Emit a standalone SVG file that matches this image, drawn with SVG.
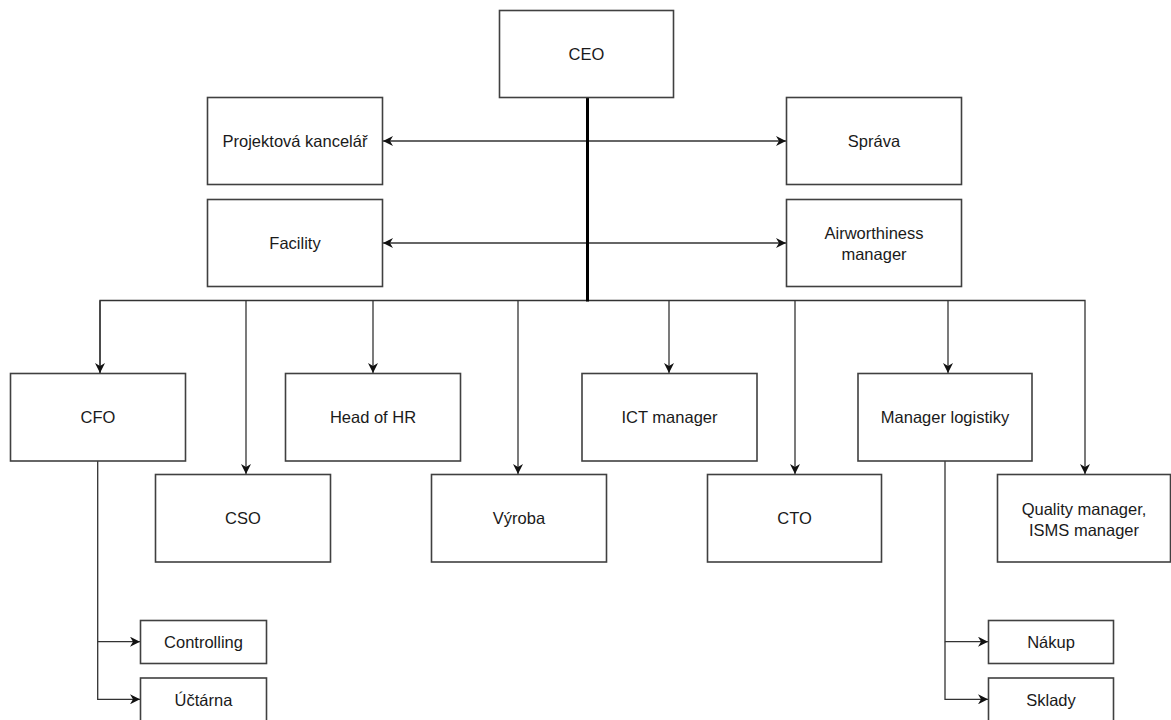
<svg xmlns="http://www.w3.org/2000/svg" width="1171" height="720" viewBox="0 0 1171 720">
  <style>
    .box { fill: #ffffff; stroke: #404040; stroke-width: 1.6; }
    .lbl { font-family: "Liberation Sans", Arial, sans-serif; font-size: 16.5px; fill: #1a1a1a; text-anchor: middle; dominant-baseline: central; }
    .edge { fill: none; stroke: #333333; stroke-width: 1.3; }
    .trunk { fill: none; stroke: #000000; stroke-width: 3; }
  </style>
  <defs>
    <marker id="arrow" viewBox="0 0 10 10" refX="10" refY="5" markerWidth="10" markerHeight="10" markerUnits="userSpaceOnUse" orient="auto-start-reverse">
      <path d="M0,0 L10,5 L0,10 L3,5 Z" fill="#111111"/>
    </marker>
  </defs>

  <rect width="1171" height="720" fill="#ffffff"/>

  <!-- connectors -->
  <g id="connectors">
    <!-- side staff links -->
    <line class="edge" x1="383" y1="141" x2="786" y2="141" marker-start="url(#arrow)" marker-end="url(#arrow)"/>
    <line class="edge" x1="383" y1="243" x2="786" y2="243" marker-start="url(#arrow)" marker-end="url(#arrow)"/>
    <!-- main bus -->
    <polyline class="edge" points="100,373 100,300.5 1085,300.5 1085,474" marker-end="url(#arrow)"/>
    <line class="edge" x1="100" y1="300.5" x2="100" y2="373" marker-end="url(#arrow)"/>
    <line class="edge" x1="246" y1="300.5" x2="246" y2="474" marker-end="url(#arrow)"/>
    <line class="edge" x1="373" y1="300.5" x2="373" y2="373" marker-end="url(#arrow)"/>
    <line class="edge" x1="518" y1="300.5" x2="518" y2="474" marker-end="url(#arrow)"/>
    <line class="edge" x1="669" y1="300.5" x2="669" y2="373" marker-end="url(#arrow)"/>
    <line class="edge" x1="795" y1="300.5" x2="795" y2="474" marker-end="url(#arrow)"/>
    <line class="edge" x1="948" y1="300.5" x2="948" y2="373" marker-end="url(#arrow)"/>
    <!-- CEO trunk -->
    <line class="trunk" x1="587.5" y1="97" x2="587.5" y2="301.5"/>
    <!-- CFO subtree -->
    <polyline class="edge" points="97.7,461 97.7,641.7 140,641.7" marker-end="url(#arrow)"/>
    <polyline class="edge" points="97.7,641.7 97.7,699.3 140,699.3" marker-end="url(#arrow)"/>
    <!-- logistics subtree -->
    <polyline class="edge" points="945,461 945,641.7 988,641.7" marker-end="url(#arrow)"/>
    <polyline class="edge" points="945,641.7 945,699.3 988,699.3" marker-end="url(#arrow)"/>
  </g>

  <g id="ceo"><rect class="box" x="499.5" y="10.5" width="174" height="87"/><text class="lbl" x="586.5" y="54">CEO</text></g>
  <g id="projektova-kancelar"><rect class="box" x="207.5" y="97.5" width="175" height="87"/><text class="lbl" x="295" y="141">Projektová kancelář</text></g>
  <g id="sprava"><rect class="box" x="786.5" y="97.5" width="175" height="87"/><text class="lbl" x="874" y="141">Správa</text></g>
  <g id="facility"><rect class="box" x="207.5" y="199.5" width="175" height="87"/><text class="lbl" x="295" y="243">Facility</text></g>
  <g id="airworthiness"><rect class="box" x="786.5" y="199.5" width="175" height="87"/><text class="lbl" x="874" y="233">Airworthiness</text><text class="lbl" x="874" y="253.5">manager</text></g>

  <g id="cfo"><rect class="box" x="10.5" y="373.5" width="175" height="87.5"/><text class="lbl" x="98" y="417">CFO</text></g>
  <g id="cso"><rect class="box" x="155.5" y="474.5" width="175" height="87.5"/><text class="lbl" x="243" y="518">CSO</text></g>
  <g id="head-of-hr"><rect class="box" x="285.5" y="373.5" width="175" height="87.5"/><text class="lbl" x="373" y="417">Head of HR</text></g>
  <g id="vyroba"><rect class="box" x="431.5" y="474.5" width="175" height="87.5"/><text class="lbl" x="519" y="518">Výroba</text></g>
  <g id="ict-manager"><rect class="box" x="582" y="373.5" width="175" height="87.5"/><text class="lbl" x="669.5" y="417">ICT manager</text></g>
  <g id="cto"><rect class="box" x="707.5" y="474.5" width="174" height="87.5"/><text class="lbl" x="794.5" y="518">CTO</text></g>
  <g id="manager-logistiky"><rect class="box" x="858" y="373.5" width="174" height="87.5"/><text class="lbl" x="945" y="417">Manager logistiky</text></g>
  <g id="quality-manager"><rect class="box" x="997.5" y="474.5" width="173" height="87.5"/><text class="lbl" x="1084" y="508.5">Quality manager,</text><text class="lbl" x="1084" y="530">ISMS manager</text></g>

  <g id="controlling"><rect class="box" x="140.5" y="620.5" width="126" height="43"/><text class="lbl" x="203.5" y="642">Controlling</text></g>
  <g id="uctarna"><rect class="box" x="140.5" y="678" width="126" height="43"/><text class="lbl" x="203.5" y="699.5">Účtárna</text></g>
  <g id="nakup"><rect class="box" x="988.5" y="620.5" width="125" height="43"/><text class="lbl" x="1051" y="642">Nákup</text></g>
  <g id="sklady"><rect class="box" x="988.5" y="678" width="125" height="43"/><text class="lbl" x="1051" y="699.5">Sklady</text></g>
</svg>
